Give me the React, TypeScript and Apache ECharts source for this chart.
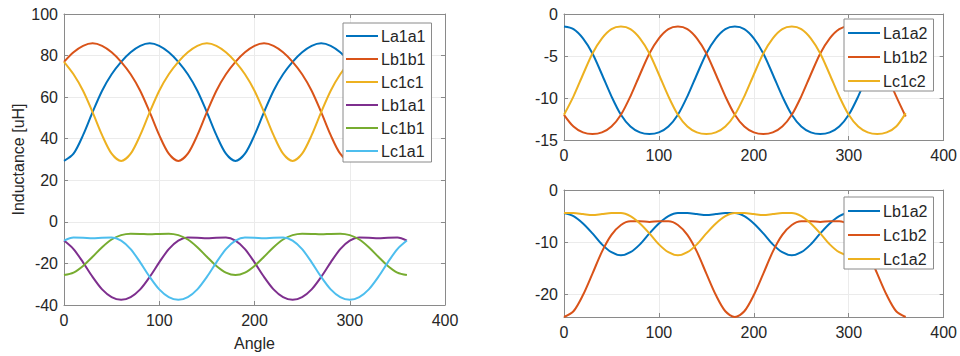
import React, { useEffect, useRef } from "react";
import * as echarts from "echarts";

const ANGLES = [0, 10, 20, 30, 40, 50, 60, 70, 80, 90, 100, 110, 120, 130, 140, 150, 160, 170, 180, 190, 200, 210, 220, 230, 240, 250, 260, 270, 280, 290, 300, 310, 320, 330, 340, 350, 360];

// Left panel
const La1a1 = [29.3, 32.8, 41.7, 52.8, 63.1, 71.0, 77.0, 81.6, 84.7, 85.9, 84.7, 81.6, 77.0, 71.0, 63.1, 52.8, 41.7, 32.8, 29.3, 32.8, 41.7, 52.8, 63.1, 71.0, 77.0, 81.6, 84.7, 85.9, 84.7, 81.6, 77.0, 71.0, 63.1, 52.8, 41.7, 32.8, 29.3];
const Lb1b1 = [77.0, 81.6, 84.7, 85.9, 84.7, 81.6, 77.0, 71.0, 63.1, 52.8, 41.7, 32.8, 29.3, 32.8, 41.7, 52.8, 63.1, 71.0, 77.0, 81.6, 84.7, 85.9, 84.7, 81.6, 77.0, 71.0, 63.1, 52.8, 41.7, 32.8, 29.3, 32.8, 41.7, 52.8, 63.1, 71.0, 77.0];
const Lc1c1 = [77.0, 71.0, 63.1, 52.8, 41.7, 32.8, 29.3, 32.8, 41.7, 52.8, 63.1, 71.0, 77.0, 81.6, 84.7, 85.9, 84.7, 81.6, 77.0, 71.0, 63.1, 52.8, 41.7, 32.8, 29.3, 32.8, 41.7, 52.8, 63.1, 71.0, 77.0, 81.6, 84.7, 85.9, 84.7, 81.6, 77.0];
const Lb1a1 = [-9.0, -13.1, -19.5, -26.5, -32.5, -36.2, -37.5, -36.2, -32.5, -26.5, -19.5, -13.1, -9.0, -7.5, -7.6, -7.9, -7.6, -7.5, -9.0, -13.1, -19.5, -26.5, -32.5, -36.2, -37.5, -36.2, -32.5, -26.5, -19.5, -13.1, -9.0, -7.5, -7.6, -7.9, -7.6, -7.5, -9.0];
const Lc1b1 = [-25.6, -24.4, -21.2, -16.8, -12.2, -8.5, -6.4, -5.7, -5.8, -6.0, -5.8, -5.7, -6.4, -8.5, -12.2, -16.8, -21.2, -24.4, -25.6, -24.4, -21.2, -16.8, -12.2, -8.5, -6.4, -5.7, -5.8, -6.0, -5.8, -5.7, -6.4, -8.5, -12.2, -16.8, -21.2, -24.4, -25.6];
const Lc1a1 = [-9.0, -7.5, -7.6, -7.9, -7.6, -7.5, -9.0, -13.1, -19.5, -26.5, -32.5, -36.2, -37.5, -36.2, -32.5, -26.5, -19.5, -13.1, -9.0, -7.5, -7.6, -7.9, -7.6, -7.5, -9.0, -13.1, -19.5, -26.5, -32.5, -36.2, -37.5, -36.2, -32.5, -26.5, -19.5, -13.1, -9.0];

// Right top panel
const La1a2 = [-1.5, -1.8, -2.9, -4.7, -7.2, -9.8, -12.0, -13.4, -14.1, -14.3, -14.1, -13.4, -12.0, -9.8, -7.2, -4.7, -2.9, -1.8, -1.5, -1.8, -2.9, -4.7, -7.2, -9.8, -12.0, -13.4, -14.1, -14.3, -14.1, -13.4, -12.0, -9.8, -7.2, -4.7, -2.9, -1.8, -1.5];
const Lb1b2 = [-12.0, -13.4, -14.1, -14.3, -14.1, -13.4, -12.0, -9.8, -7.2, -4.7, -2.9, -1.8, -1.5, -1.8, -2.9, -4.7, -7.2, -9.8, -12.0, -13.4, -14.1, -14.3, -14.1, -13.4, -12.0, -9.8, -7.2, -4.7, -2.9, -1.8, -1.5, -1.8, -2.9, -4.7, -7.2, -9.8, -12.2];
const Lc1c2 = [-12.0, -9.8, -7.2, -4.7, -2.9, -1.8, -1.5, -1.8, -2.9, -4.7, -7.2, -9.8, -12.0, -13.4, -14.1, -14.3, -14.1, -13.4, -12.0, -9.8, -7.2, -4.7, -2.9, -1.8, -1.5, -1.8, -2.9, -4.7, -7.2, -9.8, -12.0, -13.4, -14.1, -14.3, -14.1, -13.4, -11.8];

// Right bottom panel
const Lb1a2 = [-4.4, -5.0, -6.4, -8.3, -10.4, -11.9, -12.5, -11.9, -10.4, -8.3, -6.4, -5.0, -4.4, -4.4, -4.6, -4.8, -4.6, -4.4, -4.4, -5.0, -6.4, -8.3, -10.4, -11.9, -12.5, -11.9, -10.4, -8.3, -6.4, -5.0, -4.4, -4.4, -4.6, -4.8, -4.6, -4.4, -4.4];
const Lc1b2 = [-24.3, -23.2, -20.1, -16.0, -11.8, -8.6, -6.7, -6.0, -6.0, -6.1, -6.0, -6.0, -6.7, -8.6, -11.8, -16.0, -20.1, -23.2, -24.3, -23.2, -20.1, -16.0, -11.8, -8.6, -6.7, -6.0, -6.0, -6.1, -6.0, -6.0, -6.7, -8.6, -11.8, -16.0, -20.1, -23.2, -24.3];
const Lc1a2 = [-4.4, -4.4, -4.6, -4.8, -4.6, -4.4, -4.4, -5.0, -6.4, -8.3, -10.4, -11.9, -12.5, -11.9, -10.4, -8.3, -6.4, -5.0, -4.4, -4.4, -4.6, -4.8, -4.6, -4.4, -4.4, -5.0, -6.4, -8.3, -10.4, -11.9, -12.5, -11.9, -10.4, -8.3, -6.4, -5.0, -4.4];

const X_TICKS = [0, 100, 200, 300, 400];
const RB_Y_TICKS = [0, -10, -20];

const BLUE = "#0072BD";
const ORANGE = "#D95319";
const YELLOW = "#EDB120";
const PURPLE = "#7E2F8E";
const GREEN = "#77AC30";
const CYAN = "#4DBEEE";

const FONT = "'Liberation Sans', Arial, Helvetica, sans-serif";
const AXIS_COLOR = "#8a8a8a";
const TEXT_COLOR = "#262626";
const GRID_COLOR = "#ebebeb";
const FS = 16;
const LEGEND_ICON = "path://M0 0H32V2H0Z";

function line(name: string, data: number[], color: string, gi: number) {
  return {
    name,
    type: "line",
    xAxisIndex: gi,
    yAxisIndex: gi,
    data: ANGLES.map((a, i) => [a, data[i]]),
    smooth: 0.3,
    symbol: "none",
    showSymbol: false,
    lineStyle: { width: 2, color },
    itemStyle: { color },
    z: 3,
  };
}

function xAxisMain(gi: number, withName: boolean) {
  return {
    type: "value",
    gridIndex: gi,
    min: X_TICKS[0],
    max: X_TICKS[X_TICKS.length - 1],
    interval: 100,
    position: "bottom",
    name: withName ? "Angle" : "",
    nameLocation: "middle",
    nameGap: 30,
    nameTextStyle: { color: TEXT_COLOR, fontSize: FS, fontFamily: FONT },
    axisLine: { show: true, onZero: false, lineStyle: { color: AXIS_COLOR, width: 1 } },
    axisTick: { show: true, inside: true, length: 4, lineStyle: { color: AXIS_COLOR } },
    axisLabel: { color: TEXT_COLOR, fontSize: FS, fontFamily: FONT, margin: 7 },
    splitLine: { show: true, lineStyle: { color: GRID_COLOR, width: 1 } },
  };
}

function xAxisMirror(gi: number) {
  return {
    type: "value",
    gridIndex: gi,
    min: 0,
    max: 400,
    interval: 100,
    position: "top",
    axisLine: { show: true, onZero: false, lineStyle: { color: AXIS_COLOR, width: 1 } },
    axisTick: { show: true, inside: true, length: 4, lineStyle: { color: AXIS_COLOR } },
    axisLabel: { show: false },
    splitLine: { show: false },
  };
}

function yAxisMain(gi: number, min: number, max: number, interval: number, extra: any = {}) {
  return {
    type: "value",
    gridIndex: gi,
    min,
    max,
    interval,
    position: "left",
    axisLine: { show: true, onZero: false, lineStyle: { color: AXIS_COLOR, width: 1 } },
    axisTick: { show: true, inside: true, length: 4, lineStyle: { color: AXIS_COLOR } },
    axisLabel: { color: TEXT_COLOR, fontSize: FS, fontFamily: FONT, margin: 6 },
    splitLine: { show: true, lineStyle: { color: GRID_COLOR, width: 1 } },
    ...extra,
  };
}

function yAxisMirror(gi: number, min: number, max: number, interval: number, extra: any = {}) {
  return {
    type: "value",
    gridIndex: gi,
    min,
    max,
    interval,
    position: "right",
    axisLine: { show: true, onZero: false, lineStyle: { color: AXIS_COLOR, width: 1 } },
    axisTick: { show: true, inside: true, length: 4, lineStyle: { color: AXIS_COLOR } },
    axisLabel: { show: false },
    splitLine: { show: false },
    ...extra,
  };
}

function legend(names: string[], left: number, top: number, gap: number, padding: number[]) {
  return {
    orient: "vertical",
    left,
    top,
    data: names,
    icon: LEGEND_ICON,
    itemWidth: 32,
    itemHeight: 16,
    itemGap: gap,
    padding,
    backgroundColor: "#ffffff",
    borderColor: AXIS_COLOR,
    borderWidth: 1,
    borderRadius: 0,
    selectedMode: false,
    textStyle: { color: TEXT_COLOR, fontSize: FS, fontFamily: FONT, padding: [0, 0, 0, -2] },
  };
}

export default function App() {
  const ref = useRef<HTMLDivElement>(null);
  useEffect(() => {
    if (!ref.current) return;
    const chart = echarts.init(ref.current, undefined, { renderer: "svg" });
    const rbExtraMain = {
      axisLabel: { color: TEXT_COLOR, fontSize: FS, fontFamily: FONT, margin: 6, customValues: RB_Y_TICKS },
      axisTick: { show: true, inside: true, length: 4, lineStyle: { color: AXIS_COLOR }, customValues: RB_Y_TICKS },
    };
    const rbExtraMirror = {
      axisTick: { show: true, inside: true, length: 4, lineStyle: { color: AXIS_COLOR }, customValues: RB_Y_TICKS },
    };
    chart.setOption({
      animation: false,
      backgroundColor: "#ffffff",
      textStyle: { fontFamily: FONT },
      grid: [
        { left: 64, top: 14, width: 381, height: 294, show: false },
        { left: 564, top: 14, width: 381, height: 126, show: false },
        { left: 564, top: 190, width: 381, height: 127, show: false },
      ],
      xAxis: [
        xAxisMain(0, true),
        xAxisMain(1, false),
        xAxisMain(2, false),
        xAxisMirror(0),
        xAxisMirror(1),
        xAxisMirror(2),
      ],
      yAxis: [
        {
          ...yAxisMain(0, -40, 100, 20),
          name: "Inductance [uH]",
          nameLocation: "middle",
          nameGap: 38,
          nameTextStyle: { color: TEXT_COLOR, fontSize: FS, fontFamily: FONT },
        },
        yAxisMain(1, -15, 0, 5),
        yAxisMain(2, -24.3, 0, undefined as any, rbExtraMain),
        yAxisMirror(0, -40, 100, 20),
        yAxisMirror(1, -15, 0, 5),
        yAxisMirror(2, -24.3, 0, undefined as any, rbExtraMirror),
      ],
      legend: [
        legend(["La1a1", "Lb1b1", "Lc1c1", "Lb1a1", "Lc1b1", "Lc1a1"], 343, 23, 7, [5, 6, 3, 3]),
        legend(["La1a2", "Lb1b2", "Lc1c2"], 844, 19, 8, [6, 6, 2, 4]),
        legend(["Lb1a2", "Lc1b2", "Lc1a2"], 844, 197, 8, [6, 6, 2, 4]),
      ],
      series: [
        line("La1a1", La1a1, BLUE, 0),
        line("Lb1b1", Lb1b1, ORANGE, 0),
        line("Lc1c1", Lc1c1, YELLOW, 0),
        line("Lb1a1", Lb1a1, PURPLE, 0),
        line("Lc1b1", Lc1b1, GREEN, 0),
        line("Lc1a1", Lc1a1, CYAN, 0),
        line("La1a2", La1a2, BLUE, 1),
        line("Lb1b2", Lb1b2, ORANGE, 1),
        line("Lc1c2", Lc1c2, YELLOW, 1),
        line("Lb1a2", Lb1a2, BLUE, 2),
        line("Lc1b2", Lc1b2, ORANGE, 2),
        line("Lc1a2", Lc1a2, YELLOW, 2),
      ],
    });
    return () => chart.dispose();
  }, []);
  return (
    <div
      ref={ref}
      style={{ position: "fixed", left: 0, top: 0, width: 960, height: 356, background: "#fff" }}
    />
  );
}
